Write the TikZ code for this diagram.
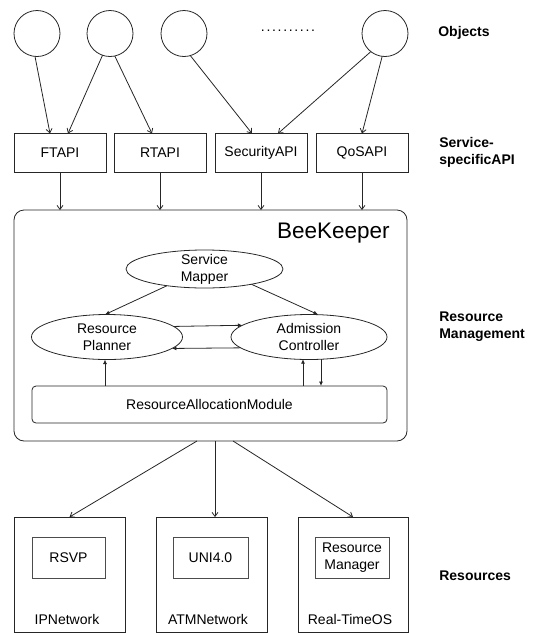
\documentclass[tikz,border=0pt]{standalone}
\usepackage{fontspec}
\setmainfont{Liberation Sans}
\usetikzlibrary{arrows.meta,shapes.geometric,calc}
\begin{document}
\begin{tikzpicture}[x=1pt,y=-1pt,
  every node/.style={font=\fontsize{14}{17}\selectfont, outer sep=0pt},
  line/.style={draw=black!85, line width=0.8pt},
  obj/.style={line, circle, minimum size=46pt, inner sep=0pt},
  api/.style={line, rectangle, minimum width=92pt, minimum height=39pt, inner sep=0pt},
  oval/.style={line, ellipse, inner sep=0pt},
  res/.style={line, rectangle, minimum width=111pt, minimum height=115pt, inner sep=0pt},
  inner/.style={draw=black!70, line width=1pt, rectangle, minimum height=41pt, inner sep=0pt, align=center},
  side/.style={anchor=west, align=left, font=\fontsize{14}{17}\selectfont\bfseries},
  barb/.style={line, -{Straight Barb[length=4pt,width=6pt]}},
  tip/.style={line, -{Latex[length=4.5pt,width=4pt]}}
]
\useasboundingbox (0,0) rectangle (547,633);

% objects
\node[obj] (c1) at (37,33.5) {};
\node[obj] (c2) at (110,33.5) {};
\node[obj] (c3) at (184,33.5) {};
\node[obj] (c4) at (385,33.5) {};
\node (dots) at (288,31) {\addfontfeature{LetterSpace=12}..........};

% service-specific APIs
\node[api] (ft)  at (60,153)  {FTAPI};
\node[api] (rt)  at (160,153) {RTAPI};
\node[api] (sec) at (261,153) {SecurityAPI};
\node[api] (qos) at (362,153) {QoSAPI};

\draw[barb] (c1.-95)  -- ([xshift=-10pt]ft.north);
\draw[barb] (c2.-109) -- ([xshift=8pt]ft.north);
\draw[barb] (c2.-78)  -- ([xshift=-8pt]rt.north);
\draw[barb] (c3.-74)  -- ([xshift=-9pt]sec.north);
\draw[barb] (c4.-128) -- ([xshift=17pt]sec.north);
\draw[barb] (c4.-97)  -- (qos.north);

% BeeKeeper
\node[line, rectangle, rounded corners=10pt, minimum width=393pt, minimum height=231pt, inner sep=0pt] (bk) at (210.5,325.5) {};
\node[anchor=base east, font=\fontsize{22.5}{26}\selectfont] (bkname) at (393,238) {BeeKeeper};

\foreach \a in {ft,rt,sec,qos}
  \draw[barb] (\a.south) -- (\a.south |- bk.north);

\node[oval, minimum width=157pt, minimum height=38pt, label={[align=center]center:Service\\Mapper}] (sm) at (204.5,269) {};
\node[oval, minimum width=151pt, minimum height=45pt, label={[align=center]center:Resource\\Planner}] (rp) at (107,337) {};
\node[oval, minimum width=156pt, minimum height=45pt, label={[align=center]center:Admission\\Controller}] (ac) at (309,337) {};
\node[line, rectangle, rounded corners=4pt, minimum width=355pt, minimum height=37pt, inner sep=0pt] (ram) at (209.5,404.5) {ResourceAllocationModule};

\draw[tip] (sm.-156) -- ([xshift=-2pt]rp.north);
\draw[tip] (sm.-18)  -- ([xshift=9pt]ac.north);
\draw[tip] (rp.9.5)  -- (ac.170.8);
\draw[tip] (ac.189.9) -- (rp.-10.6);
\draw[tip] ([xshift=-2pt]rp.south |- ram.north) -- ([xshift=-2pt]rp.south);
\draw[tip] ([xshift=-6pt]ac.south |- ram.north) -- ([xshift=-6pt,yshift=0.3pt]ac.south);
\draw[tip] ([xshift=12pt,yshift=0.3pt]ac.south) -- ([xshift=12pt]ac.south |- ram.north);

% resources
\node[res] (ip)   at (69.5,574.5) {};
\node[res] (atm)  at (211.5,574.5) {};
\node[res, minimum width=110pt] (rtos) at (353,574.5) {};

\node[inner, minimum width=73pt] (rsvp) at (68.5,557.5) {RSVP};
\node[inner, minimum width=75pt] (uni)  at (210.5,557.5) {UNI4.0};
\node[inner, minimum width=74pt] (rmgr) at (352,557.5) {Resource\\Manager};

\node[anchor=base] (ipl)  at (67,624)  {IPNetwork};
\node[anchor=base] (atml) at (208,624) {ATMNetwork};
\node[anchor=base] (rtl)  at (350,624) {Real-TimeOS};

\draw[barb] ([xshift=-13.5pt]bk.south) -- (ip.north);
\draw[barb] ([xshift=4.5pt]bk.south)  -- ([xshift=3.5pt]atm.north);
\draw[barb] ([xshift=22.5pt]bk.south) -- (rtos.north);

% layer labels
\node[side] (lobj) at (435,33)  {Objects};
\node[side] (lapi) at (436,152) {Service-\\specificAPI};
\node[side] (lrm)  at (436,327) {Resource\\Management};
\node[side] (lres) at (436,576) {Resources};
\end{tikzpicture}
\end{document}
